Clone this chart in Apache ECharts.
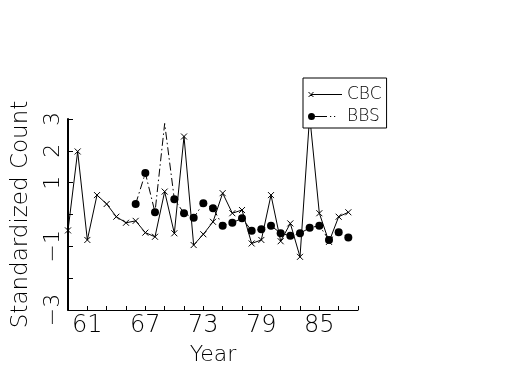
<!DOCTYPE html>
<html>
<head>
<meta charset="utf-8">
<script src="https://cdn.jsdelivr.net/npm/echarts@6/dist/echarts.min.js"></script>
<style>html,body{margin:0;padding:0;background:#fff;}#c{width:525px;height:375px;}</style>
</head>
<body>
<div id="c"></div>
<script>
// Data
var cbcYears = [59,60,61,62,63,64,65,66,67,68,69,70,71,72,73,74,75,76,77,78,79,80,81,82,83,84,85,86,87,88];
var cbcValues = [-0.5,1.98,-0.8,0.61,0.33,-0.07,-0.26,-0.2,-0.57,-0.7,0.72,-0.59,2.45,-0.96,-0.62,-0.23,0.67,0.04,0.14,-0.91,-0.8,0.61,-0.84,-0.28,-1.33,3.1,0.04,-0.86,-0.07,0.07];
var bbsYears = [66,67,68,69,70,71,72,73,74,75,76,77,78,79,80,81,82,83,84,85,86,87,88];
var bbsValues = [0.33,1.3,0.07,2.86,0.48,0.04,-0.1,0.35,0.2,-0.35,-0.26,-0.12,-0.51,-0.46,-0.35,-0.59,-0.67,-0.59,-0.42,-0.35,-0.8,-0.56,-0.72];
var bbsNoMarkerYears = [69];
var yTickLabels = {'3':'3','2':'2','1':'1','-1':'\u22121','-3':'\u22123'};
var xTickLabels = [61,67,73,79,85];

var FONT = '"DejaVu Sans", sans-serif';
var FW = 200;
var chart = echarts.init(document.getElementById('c'), null, {renderer:'canvas'});

var cbcData = cbcYears.map(function(y,i){ return [y, cbcValues[i]]; });
var bbsData = bbsYears.map(function(y,i){
  var it = {value:[y, bbsValues[i]]};
  if (bbsNoMarkerYears.indexOf(y) >= 0) it.symbol = 'none';
  return it;
});

var cbcIcon = 'path://M0,0L0,0M34,10L34,10M3,4.5L34,4.5L34,5.5L3,5.5ZM0,2.5L1,2.5L6,7.5L5,7.5ZM5,2.5L6,2.5L1,7.5L0,7.5Z';
var bbsIcon = 'path://M0,0L0,0M34,10L34,10M0,5A3.5,3.5 0 1 1 7,5A3.5,3.5 0 1 1 0,5ZM7,4.5L19,4.5L19,5.5L7,5.5ZM22,4.5L23.2,4.5L23.2,5.5L22,5.5ZM26,4.5L27.2,4.5L27.2,5.5L26,5.5Z';

chart.setOption({
  animation: false,
  backgroundColor: '#fff',
  grid: {left: 68, right: 167, top: 119, bottom: 65, containLabel: false},
  legend: {
    orient: 'vertical',
    left: 303, top: 78,
    padding: [8, 5, 3, 5],
    itemGap: 5,
    itemWidth: 34, itemHeight: 10,
    backgroundColor: '#fff',
    borderColor: '#000', borderWidth: 1, borderRadius: 0,
    textStyle: {fontFamily: FONT, fontWeight: FW, fontSize: 17, color: '#000'},
    data: [{name:'CBC', icon: cbcIcon}, {name:'BBS', icon: bbsIcon}],
    itemStyle: {color:'#000', borderWidth: 0},
    z: 10
  },
  xAxis: {
    type: 'value', min: 59, max: 89, interval: 2,
    name: 'Year', nameLocation: 'middle', nameGap: 34,
    nameTextStyle: {fontFamily: FONT, fontWeight: FW, fontSize: 22, color: '#000'},
    axisLine: {show: true, onZero: false, lineStyle: {color: '#000', width: 1}},
    axisTick: {show: true, inside: true, length: 4, lineStyle: {color:'#000'}},
    axisLabel: {
      fontFamily: FONT, fontWeight: FW, fontSize: 24, color: '#000', margin: 4,
      formatter: function(v){ return xTickLabels.indexOf(v) >= 0 ? String(v) : ''; }
    },
    splitLine: {show: false}
  },
  yAxis: {
    type: 'value', min: -3, max: 3, interval: 1,
    name: 'Standardized Count', nameLocation: 'middle', nameGap: 35, nameRotate: 90,
    nameTextStyle: {fontFamily: FONT, fontWeight: FW, fontSize: 23, color: '#000'},
    axisLine: {show: true, onZero: false, lineStyle: {color: '#000', width: 2}},
    axisTick: {show: true, inside: true, length: 5, lineStyle: {color:'#000'}},
    axisLabel: {
      fontFamily: FONT, fontWeight: FW, fontSize: 22, color: '#000', margin: 4, rotate: 90,
      formatter: function(v){ var k = String(v); return yTickLabels[k] || ''; }
    },
    splitLine: {show: false}
  },
  series: [
    {
      name: 'CBC', type: 'line', data: cbcData,
      symbol: 'path://M0,0L10,10M10,0L0,10', symbolSize: 6,
      itemStyle: {color: '#000', borderColor: '#000', borderWidth: 1},
      lineStyle: {color: '#000', width: 1},
      clip: true, z: 3
    },
    {
      name: 'BBS', type: 'line', data: bbsData,
      symbol: 'circle', symbolSize: 8,
      itemStyle: {color: '#000'},
      lineStyle: {color: '#000', width: 1, type: [8, 3, 1.5, 3]},
      clip: true, z: 2
    }
  ]
});
</script>
</body>
</html>
